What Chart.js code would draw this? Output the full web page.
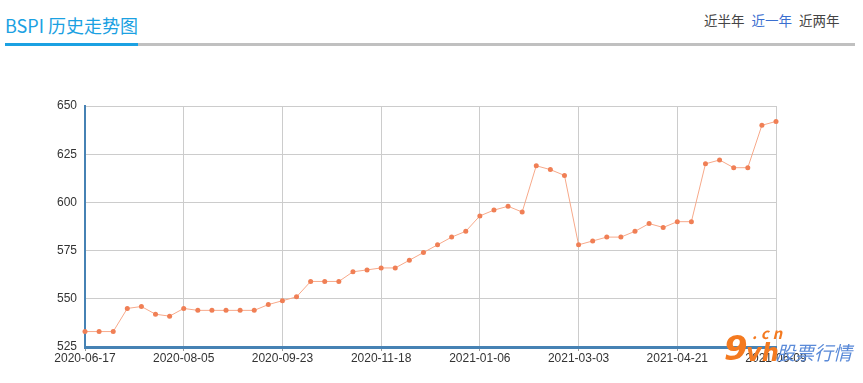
<!DOCTYPE html>
<html lang="zh">
<head>
  <meta charset="UTF-8" />
  <title>BSPI 历史走势图</title>
  <script src="https://cdn.jsdelivr.net/npm/chart.js"></script>
  <style>
    body {
      margin: 0;
      width: 863px;
      height: 383px;
      overflow: hidden;
      background: #fff;
      font-family: 'Noto Sans CJK SC', 'Noto Sans', sans-serif;
      position: relative;
    }
    .title {
      position: absolute;
      left: 5px;
      top: 12px;
      font-size: 18px;
      color: #1ba1e2;
      line-height: 26px;
    }
    .bar-gray {
      position: absolute;
      left: 5px;
      top: 43px;
      width: 850px;
      height: 3px;
      background: #c0c0c0;
    }
    .bar-blue {
      position: absolute;
      left: 5px;
      top: 43px;
      width: 133px;
      height: 3px;
      background: #1ba1e2;
    }
    .tabs {
      position: absolute;
      left: 704px;
      top: 10px;
      font-size: 13.5px;
      color: #444;
      line-height: 20px;
      white-space: nowrap;
    }
    .tabs span { margin-right: 7px; }
    .tabs .on { color: #3b6fd0; }
    .chart-box {
      position: absolute;
      left: 0;
      top: 0;
      width: 863px;
      height: 383px;
    }
    .mark {
      position: absolute;
      left: 722px;
      top: 328px;
      height: 50px;
      width: 140px;
      white-space: nowrap;
      font-style: italic;
      font-weight: bold;
    }
    .mark span { position: absolute; }
    .mark .nine { left: 2px; top: 0; color: #f47a20; font-size: 34px; line-height: 40px; font-family: 'DejaVu Sans', sans-serif; }
    .mark .vh { left: 24px; top: 10px; color: #f47a20; font-size: 24px; line-height: 30px; font-family: 'DejaVu Sans', sans-serif; }
    .mark .cn { left: 30px; top: -4px; color: #f47a20; font-size: 15px; line-height: 18px; letter-spacing: 4px; }
    .mark .gp { left: 54px; top: 11px; color: #5a8ad8; font-size: 19px; line-height: 26px; font-weight: normal; }
  </style>
</head>
<body>
  <div class="title">BSPI 历史走势图</div>
  <div class="bar-gray"></div>
  <div class="bar-blue"></div>
  <div class="tabs"><span>近半年</span><span class="on">近一年</span><span>近两年</span></div>
  <div class="chart-box"><canvas id="bspi"></canvas></div>
  <div class="mark"><span class="nine">9</span><span class="vh">vh</span><span class="cn">.cn</span><span class="gp">股票行情</span></div>

  <script>
    // weekly dates (holiday weeks 2020-10-07 and 2021-02-17 missing)
    const dates = [
      '2020-06-17', '2020-06-24', '2020-07-01', '2020-07-08', '2020-07-15', '2020-07-22', '2020-07-29',
      '2020-08-05', '2020-08-12', '2020-08-19', '2020-08-26', '2020-09-02', '2020-09-09', '2020-09-16',
      '2020-09-23', '2020-09-30', '2020-10-14', '2020-10-21', '2020-10-28', '2020-11-04', '2020-11-11',
      '2020-11-18', '2020-11-25', '2020-12-02', '2020-12-09', '2020-12-16', '2020-12-23', '2020-12-30',
      '2021-01-06', '2021-01-13', '2021-01-20', '2021-01-27', '2021-02-03', '2021-02-10', '2021-02-24',
      '2021-03-03', '2021-03-10', '2021-03-17', '2021-03-24', '2021-03-31', '2021-04-07', '2021-04-14',
      '2021-04-21', '2021-04-28', '2021-05-06', '2021-05-12', '2021-05-19', '2021-05-26', '2021-06-02',
      '2021-06-09'
    ];
    const bspi = [
      533, 533, 533, 545, 546, 542, 541,
      545, 544, 544, 544, 544, 544, 547,
      549, 551, 559, 559, 559, 564, 565,
      566, 566, 570, 574, 578, 582, 585,
      593, 596, 598, 595, 619, 617, 614,
      578, 580, 582, 582, 585, 589, 587,
      590, 590, 620, 622, 618, 618, 640,
      642
    ];
    const yTicks = [525, 550, 575, 600, 625, 650];
    const labelEvery = 7;

    new Chart(document.getElementById('bspi').getContext('2d'), {
      type: 'line',
      data: {
        labels: dates,
        datasets: [{
          label: 'BSPI',
          data: bspi,
          borderColor: '#f7a98a',
          borderWidth: 1,
          pointRadius: 2.5,
          pointBackgroundColor: '#f07f55',
          pointBorderWidth: 0,
          tension: 0,
          fill: false
        }]
      },
      options: {
        responsive: true,
        maintainAspectRatio: false,
        animation: false,
        layout: { padding: { top: 106, right: 87, left: 0, bottom: 0 } },
        plugins: { legend: { display: false }, tooltip: { enabled: false } },
        scales: {
          x: {
            afterFit: s => { s.height = 36; },
            border: { color: '#4682b4', width: 3 },
            grid: {
              color: c => (c.index % labelEvery === 0 ? '#cccccc' : 'rgba(0,0,0,0)'),
              tickLength: 4,
              tickColor: c => (c.index % labelEvery === 0 ? '#999999' : 'rgba(0,0,0,0)')
            },
            ticks: {
              autoSkip: false,
              maxRotation: 0,
              padding: 0,
              color: '#333',
              font: { family: 'Liberation Sans', size: 12 },
              callback: (v, i) => (i % labelEvery === 0 ? dates[i] : '')
            }
          },
          y: {
            min: yTicks[0],
            max: yTicks[yTicks.length - 1],
            afterFit: s => { s.width = 85; },
            afterBuildTicks: s => { s.ticks = yTicks.map(v => ({ value: v })); },
            border: { color: '#4682b4', width: 2 },
            grid: { color: '#cccccc', drawTicks: false },
            ticks: {
              padding: 8,
              color: '#333',
              font: { family: 'Liberation Sans', size: 12 }
            }
          }
        }
      }
    });
  </script>
</body>
</html>
